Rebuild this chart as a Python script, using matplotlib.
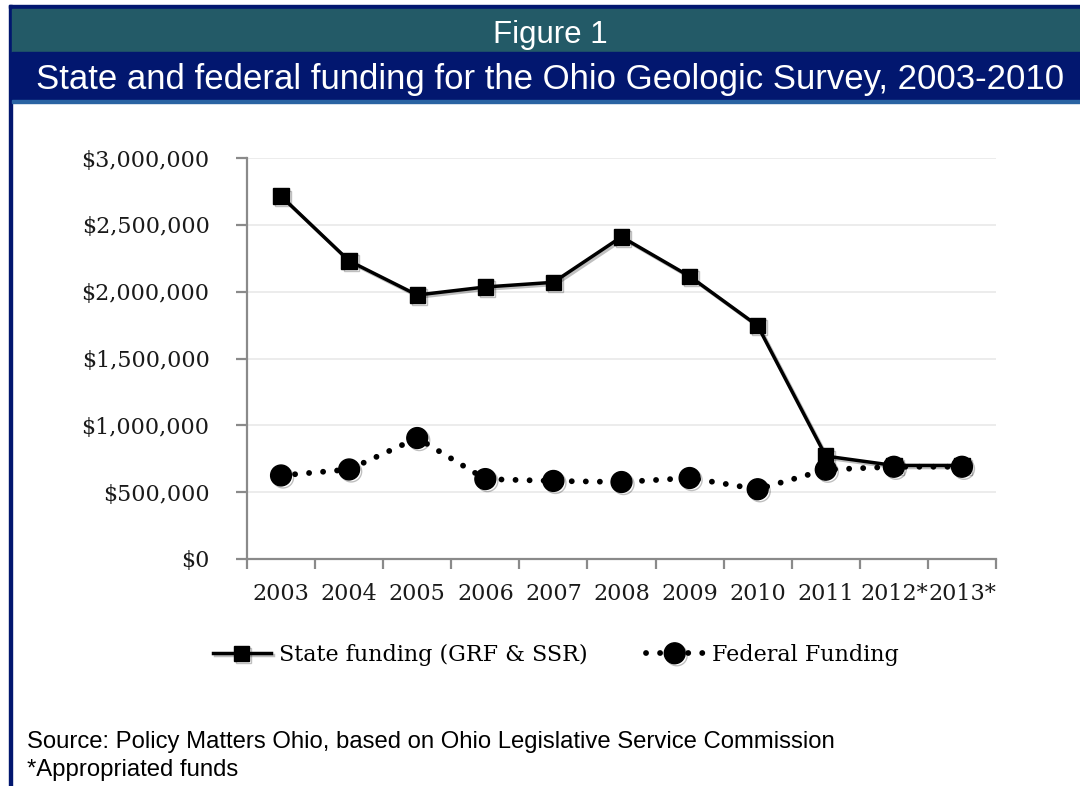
import matplotlib.pyplot as plt
import matplotlib.patheffects as pe
from matplotlib.patches import Rectangle
from matplotlib.ticker import FuncFormatter, FixedLocator
import numpy as np

# values
years = ["2003", "2004", "2005", "2006", "2007", "2008", "2009", "2010",
         "2011", "2012*", "2013*"]
state_funding = [2715000, 2230000, 1975000, 2035000, 2070000, 2410000,
                 2115000, 1745000, 770000, 700000, 700000]
federal_funding = [625000, 670000, 905000, 598000, 584000, 576000,
                   606000, 522000, 668000, 690000, 690000]

W, H = 1080, 786
fig = plt.figure(figsize=(W / 100, H / 100), dpi=100)

# --- header / frame ---
navy = "#02176f"
teal = "#235a67"
fig.patches.append(Rectangle((9 / W, 1 - 786 / H), 3 / W, 781 / H,
                             transform=fig.transFigure, color=navy, zorder=0))
fig.patches.append(Rectangle((9 / W, 1 - 8 / H), 1 - 9 / W, 3 / H,
                             transform=fig.transFigure, color=navy, zorder=0))
fig.patches.append(Rectangle((12 / W, 1 - 52 / H), 1 - 12 / W, 43 / H,
                             transform=fig.transFigure, color=teal, zorder=0))
fig.patches.append(Rectangle((12 / W, 1 - 100 / H), 1 - 12 / W, 48 / H,
                             transform=fig.transFigure, color=navy, zorder=0))
fig.patches.append(Rectangle((12 / W, 1 - 103 / H), 1 - 12 / W, 3 / H,
                             transform=fig.transFigure, color="#2a64a3", zorder=0))

sans = "Liberation Sans"
fig.text(550 / W, 1 - 35 / H, "Figure 1", ha="center", va="center",
         color="white", fontsize=22.5, family=sans)
fig.text(550 / W, 1 - 80 / H,
         "State and federal funding for the Ohio Geologic Survey, 2003-2010",
         ha="center", va="center", color="white", fontsize=25, family=sans)
fig.text(27 / W, 1 - 742 / H,
         "Source: Policy Matters Ohio, based on Ohio Legislative Service Commission",
         ha="left", va="center", color="black", fontsize=17.2, family=sans)
fig.text(27 / W, 1 - 770 / H, "*Appropriated funds",
         ha="left", va="center", color="black", fontsize=17.2, family=sans)

# --- chart ---
serif = "DejaVu Serif"
ax = fig.add_axes([247 / W, 1 - 559 / H, 749 / W, 401 / H])
x = np.arange(len(years))

shadow = [pe.SimpleLineShadow(offset=(1.5, -1.5), alpha=0.25, shadow_color="black"),
          pe.Normal()]

state_line, = ax.plot(x, state_funding, color="black", lw=2.5, marker="s",
                      markersize=11, zorder=3, path_effects=shadow)
fed_line, = ax.plot(x, federal_funding, color="black", lw=4.2,
                    linestyle=(0, (0.01, 2.4)), dash_capstyle="round", zorder=4)
fed_marks, = ax.plot(x, federal_funding, color="black", lw=0, marker="o",
                     markersize=15, zorder=5, path_effects=shadow)

ax.set_xlim(-0.5, len(years) - 0.5)
ax.set_ylim(0, 3000000)
ax.set_yticks(np.arange(0, 3000001, 500000))
ax.yaxis.set_major_formatter(FuncFormatter(lambda v, p: f"${v:,.0f}"))
ax.grid(axis="y", color="#ebebeb", lw=1.3, zorder=0)
ax.set_axisbelow(True)

ax.set_xticks(x)
ax.set_xticklabels(years)
ax.xaxis.set_minor_locator(FixedLocator(np.arange(-0.5, len(years), 1)))

for s in ["top", "right"]:
    ax.spines[s].set_visible(False)
for s in ["left", "bottom"]:
    ax.spines[s].set_color("#8a8a8a")
    ax.spines[s].set_linewidth(1.6)

ax.tick_params(axis="x", which="major", length=0, pad=17, labelsize=16,
               labelfontfamily=serif)
ax.tick_params(axis="x", which="minor", length=7, width=1.6, color="#8a8a8a")
ax.tick_params(axis="y", length=8, width=1.6, color="#8a8a8a", pad=19,
               labelsize=16, labelfontfamily=serif)
for lbl in ax.get_xticklabels() + ax.get_yticklabels():
    lbl.set_color("#1a1a1a")

fig.legend([state_line, (fed_line, fed_marks)],
           ["State funding (GRF & SSR)", "Federal Funding"],
           loc="center", bbox_to_anchor=(556 / W, 1 - 655 / H), ncol=2,
           frameon=False, prop={"family": serif, "size": 16},
           handlelength=2.6, columnspacing=2.6, handletextpad=0.4)

fig.savefig("out.png", dpi=100)
